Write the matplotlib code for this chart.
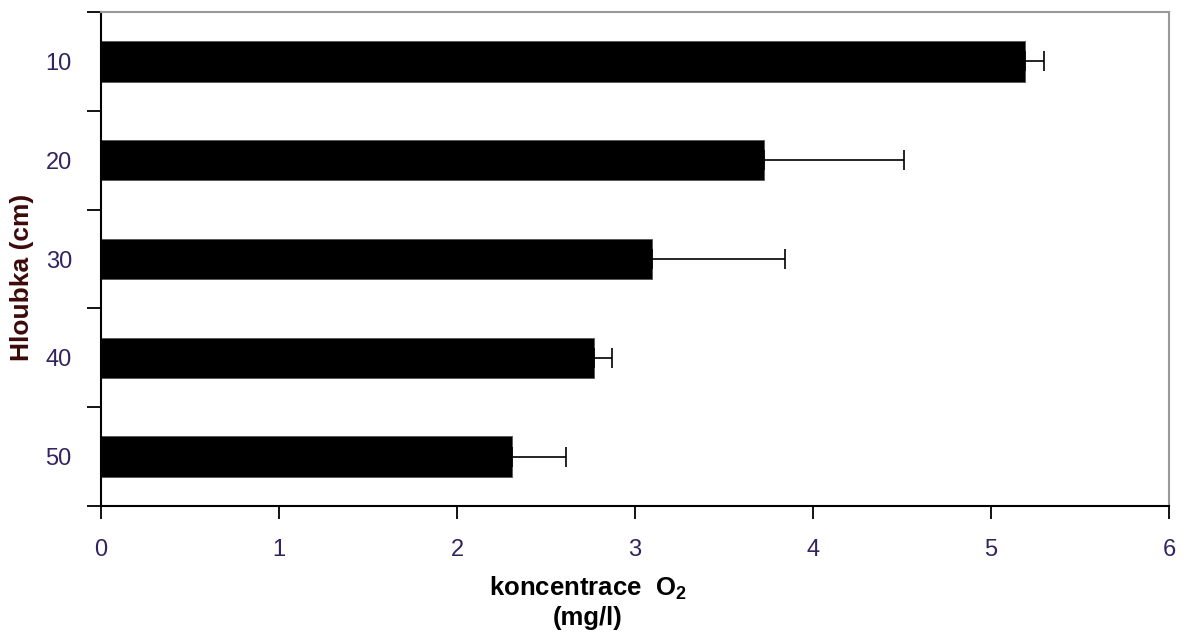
import matplotlib.pyplot as plt

# values
depths = ["10", "20", "30", "40", "50"]
oxygen = [5.19, 3.725, 3.095, 2.77, 2.31]
oxygen_err = [0.11, 0.785, 0.75, 0.10, 0.30]
x_ticks = [0, 1, 2, 3, 4, 5, 6]

plt.rcParams['mathtext.default'] = 'regular'
tick_font = ['Liberation Sans', 'DejaVu Sans']
label_font = ['Liberation Sans', 'DejaVu Sans']
tick_color = '#33235f'

fig = plt.figure(figsize=(11.89, 6.34), dpi=100)
ax = fig.add_axes([101 / 1189, 1 - 506 / 634, 1068 / 1189, 494 / 634])

pos = list(range(len(depths)))
ax.barh(pos, oxygen, height=0.41, color='black', edgecolor='#555555', linewidth=0.6,
        xerr=[[0] * len(oxygen_err), oxygen_err],
        error_kw=dict(ecolor='black', elinewidth=1.2, capsize=7, capthick=1.2))

ax.set_xlim(0, 6)
ax.set_ylim(len(depths) - 0.5, -0.5)

ax.set_xticks(x_ticks)
ax.set_xticklabels([str(t) for t in x_ticks], family=tick_font, fontsize=17, color=tick_color)
ax.tick_params(axis='x', direction='out', length=9, width=1.3, pad=15)

ax.set_yticks(pos)
ax.set_yticklabels(depths, family=tick_font, fontsize=17, color=tick_color)
ax.set_yticks([p - 0.5 for p in range(len(depths) + 1)], minor=True)
ax.tick_params(axis='y', which='major', length=0, pad=21)
ax.tick_params(axis='y', which='minor', direction='out', length=10, width=1.3)

for side in ['left', 'bottom']:
    ax.spines[side].set_color('black')
    ax.spines[side].set_linewidth(1.5)
for side in ['top', 'right']:
    ax.spines[side].set_color('#999999')
    ax.spines[side].set_linewidth(1.5)

fig.text(588 / 1189, 1 - 588 / 634, r'koncentrace  O$_2$', family=label_font,
         fontsize=18.5, fontweight='bold', ha='center', va='center')
fig.text(588 / 1189, 1 - 618 / 634, '(mg/l)', family=label_font,
         fontsize=18.5, fontweight='bold', ha='center', va='center')
fig.text(22 / 1189, 1 - 277 / 634, 'Hloubka (cm)', family=label_font, fontsize=19,
         fontweight='bold', color='#3d0a0a', rotation=90, ha='center', va='center')

fig.savefig('out.png', dpi=100)
